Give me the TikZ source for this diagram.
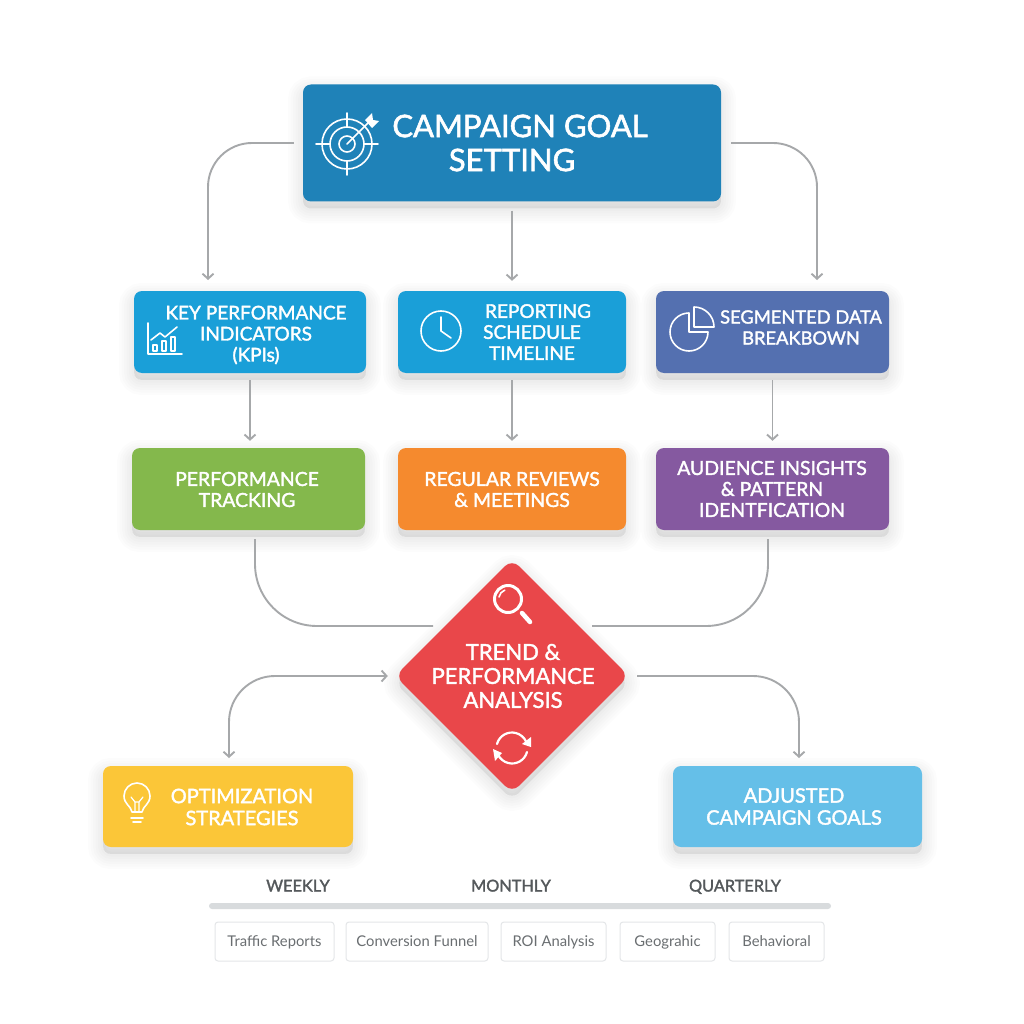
\documentclass[tikz,border=0pt]{standalone}
\usepackage{fontspec}
\setmainfont{Lato}
\newfontfamily\boxfont[FakeBold=1.8]{Lato}
\usetikzlibrary{arrows.meta,shapes.geometric}
\definecolor{goalblue}{HTML}{1F82B8}
\definecolor{skyblue}{HTML}{1A9FD8}
\definecolor{slateblue}{HTML}{5470B0}
\definecolor{leafgreen}{HTML}{84B84C}
\definecolor{orangebox}{HTML}{F58A2E}
\definecolor{purplebox}{HTML}{8559A0}
\definecolor{redbox}{HTML}{E9474A}
\definecolor{yellowbox}{HTML}{FBC638}
\definecolor{paleblue}{HTML}{65BFE8}
\definecolor{linegray}{HTML}{A6A8AA}
\definecolor{bargray}{HTML}{D8DBDD}
\definecolor{chipline}{HTML}{E4E6E8}
\definecolor{chiptext}{HTML}{6A6E71}
\definecolor{darktext}{HTML}{54585B}
\tikzset{
  shadelayer/.style={preaction={draw=black,fill=black,opacity=.011,line width=#1,transform canvas={yshift=-7pt}}},
  softshade/.style={shadelayer=30pt,shadelayer=25pt,shadelayer=20pt,shadelayer=15pt,shadelayer=10pt,shadelayer=5pt},
  card/.style={rectangle,rounded corners=8pt,inner sep=0pt,softshade},
  cardtext/.style={text=white,align=center,inner sep=0pt,font=\boxfont\fontsize{19.4}{21}\selectfont},
  link/.style={draw=linegray,line width=1.9pt,>={Straight Barb[length=5pt,width=11pt]}},
  icon/.style={draw=white,line width=1.6pt,line cap=round,line join=round},
  chip/.style={rectangle,draw=chipline,line width=1pt,fill=white,rounded corners=3pt,minimum height=39pt,inner sep=0pt,text=chiptext,text height=12pt,text depth=3pt,font=\fontsize{14.8}{16}\selectfont},
  period/.style={text=darktext,inner sep=0pt,text height=11pt,text depth=0pt,font=\boxfont\fontsize{16.3}{17}\selectfont}
}
\begin{document}
\begin{tikzpicture}[x=1pt,y=-1pt]
\useasboundingbox (0,0) rectangle (1024,1024);
\fill[white] (0,0) rectangle (1024,1024);
%boxes
\node[card,fill=goalblue,minimum width=418pt,minimum height=117pt] (goal) at (512,143) {};
\node[card,fill=skyblue,minimum width=232pt,minimum height=82pt] (kpi) at (250,332) {};
\node[card,fill=skyblue,minimum width=228pt,minimum height=82pt] (sched) at (512,332) {};
\node[card,fill=slateblue,minimum width=233pt,minimum height=82pt] (seg) at (772.5,332) {};
\node[card,fill=leafgreen,minimum width=233pt,minimum height=82pt] (perf) at (248.5,489) {};
\node[card,fill=orangebox,minimum width=228pt,minimum height=82pt] (rev) at (512,489) {};
\node[card,fill=purplebox,minimum width=233pt,minimum height=82pt] (aud) at (772.5,489) {};
\node[card,fill=yellowbox,minimum width=250pt,minimum height=81pt] (opt) at (228,806.5) {};
\node[card,fill=paleblue,minimum width=249pt,minimum height=81pt] (adj) at (797.5,806.5) {};
\node[diamond,aspect=1,fill=redbox,rounded corners=10pt,inner sep=0pt,minimum size=234pt,softshade] (trend) at (512,676) {};
%labels
\node[cardtext,font=\boxfont\fontsize{31}{34}\selectfont] (goalA) at (520,126) {CAMPAIGN GOAL};
\node[cardtext,font=\boxfont\fontsize{31}{34}\selectfont] (goalB) at (512,160) {SETTING};
\node[cardtext,font=\boxfont\fontsize{19}{21}\selectfont] (kpiT) at (256,335) {KEY PERFORMANCE\\INDICATORS\\(KPIs)};
\node[cardtext,font=\boxfont\fontsize{19}{21}\selectfont] (schedT) at (532,332) {\hspace*{12pt}REPORTING\\SCHEDULE\\TIMELINE};
\node[cardtext,font=\boxfont\fontsize{18.3}{21}\selectfont] (segT) at (801,327.5) {SEGMENTED DATA\\BREAKBOWN};
\node[cardtext] (perfT) at (247,489.5) {PERFORMANCE\\TRACKING};
\node[cardtext] (revT) at (512,489.5) {REGULAR REVIEWS\\\& MEETINGS};
\node[cardtext] (audT) at (772,489) {AUDIENCE INSIGHTS\\\& PATTERN\\IDENTFICATION};
\node[cardtext,font=\boxfont\fontsize{22}{24}\selectfont] (trendT) at (513,676) {TREND \&\\PERFORMANCE\\ANALYSIS};
\node[cardtext,font=\boxfont\fontsize{20}{22}\selectfont] (optT) at (242,807) {OPTIMIZATION\\STRATEGIES};
\node[cardtext,font=\boxfont\fontsize{20}{22}\selectfont] (adjT) at (794,806.5) {ADJUSTED\\CAMPAIGN GOALS};
%free ends
\coordinate (kpiIn) at (208,291);
\coordinate (segIn) at (817,291);
\coordinate (perfOut) at (255,530);
\coordinate (audOut) at (768,530);
\coordinate (perfEnd) at (433,626);
\coordinate (audEnd) at (592,626);
\coordinate (optIn) at (229,766);
\coordinate (adjIn) at (799,766);
%connectors
\draw[link,->,rounded corners=44pt,shorten <=9pt,shorten >=11pt] (goal.west) -| (kpiIn);
\draw[link,->,rounded corners=44pt,shorten <=10pt,shorten >=11pt] (goal.east) -| (segIn);
\draw[link,->,shorten <=9pt,shorten >=10pt] (goal.south) -- (sched.north);
\draw[link,->,shorten <=7pt,shorten >=7pt] (kpi.south) -- (kpi.south |- perf.north);
\draw[link,->,shorten <=7pt,shorten >=7pt] (sched.south) -- (rev.north);
\draw[link,->,shorten <=7pt,shorten >=7pt] (seg.south) -- (seg.south |- aud.north);
\draw[link,rounded corners=62pt,shorten <=9pt] (perfOut) |- (perfEnd);
\draw[link,rounded corners=62pt,shorten <=9pt] (audOut) |- (audEnd);
\draw[link,<->,rounded corners=46pt,shorten <=8pt,shorten >=7pt] (optIn) |- (trend.west);
\draw[link,->,rounded corners=46pt,shorten <=8pt,shorten >=8pt] (trend.east) -| (adjIn);
%target
\foreach \rad in {25,17,8} \draw[icon] (347,144) circle (\rad);
\draw[icon] (347,113) -- (347,127) (347,161) -- (347,175) (316,144) -- (330,144) (364,144) -- (378,144);
\draw[icon] (347,144) -- (368,123);
\fill[white] (365,120) -- (372,113) -- (373,120) -- (379,121) -- (372,128) -- cycle;
%chart
\draw[icon] (148,323) |- (182,354);
\draw[icon] (151,340) -- (160,333) -- (165,337) -- (177,327);
\foreach \a/\b in {153/345,162/341,171/337} \draw[icon,line width=1.2pt] (\a,351) rectangle (\a+4,\b);
%clock
\draw[icon] (441,331) circle (20);
\draw[icon] (441,317) -- (441,331) -- (451,338);
%pie
\draw[icon] (689,313) arc (-90:-360:19) -- (689,332) -- cycle;
\draw[icon] (694,307) -- (694,327) -- (714,327) arc (0:-90:20) -- cycle;
%bulb
\draw[icon] (132,812) .. controls (131,806) and (124,804) .. (124,796) arc (180:360:13) .. controls (150,804) and (143,806) .. (142,812) -- cycle;
\draw[icon,line width=1.2pt] (135,812) -- (135,802) -- (131,797) (139,812) -- (139,802) -- (143,797) (135,802) -- (139,802);
\draw[icon] (131,818) -- (143,818) (133,822) -- (141,822);
%magnifier
\draw[icon,line width=3pt] (508,599) circle (13.5);
\draw[icon,line width=1.6pt] (499,597) arc (-170:-110:9);
\draw[icon,line width=4.5pt] (522,613) -- (530,622);
%refresh
\draw[icon,line width=2.2pt] (497,744) arc (-165:-25:15.5);
\draw[icon,line width=2.2pt] (527,752) arc (15:155:15.5);
\fill[white] (522,744) -- (531,737) -- (531,747) -- cycle;
\fill[white] (493,749) -- (502,753) -- (495,761) -- cycle;
%timeline
\fill[bargray,rounded corners=3pt] (209,903) rectangle (831,909);
\node[period] (weekly) at (298,886) {WEEKLY};
\node[period] (monthly) at (511,886) {MONTHLY};
\node[period] (quarterly) at (735,886) {QUARTERLY};
\foreach \nm/\cx/\bw/\txt in {traffic/274.5/119/Traffic Reports,funnel/417/142/Conversion Funnel,roi/553.5/105/ROI Analysis,geo/667.5/95/Geograhic,behav/776.5/95/Behavioral}
  \node[chip,minimum width=\bw pt] (\nm) at (\cx,941.5) {\txt};
\end{tikzpicture}
\end{document}
